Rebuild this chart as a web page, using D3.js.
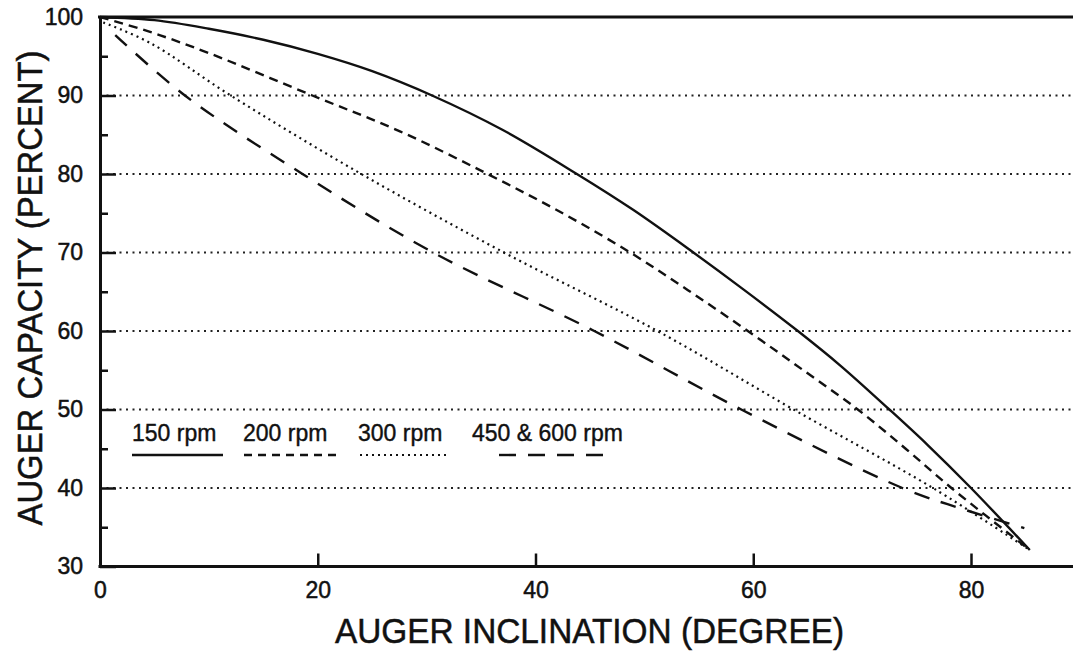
<!DOCTYPE html>
<html>
<head>
<meta charset="utf-8">
<script src="https://cdn.jsdelivr.net/npm/d3@7"></script>
<style>
  html, body { margin: 0; padding: 0; background: #fff; }
  svg { display: block; }
  text { font-family: "Liberation Sans", Arial, Helvetica, sans-serif; fill: #111; }
</style>
</head>
<body>
<svg id="chart" width="1073" height="651"></svg>
<script>
// ---- data ----
const xTicks = [0, 20, 40, 60, 80];
const yTicks = [30, 40, 50, 60, 70, 80, 90, 100];
const yMinorTicks = [35, 45, 55, 65, 75, 85, 95];
const gridValues = [40, 50, 60, 70, 80, 90];

const seriesNames = ["150 rpm", "200 rpm", "300 rpm", "450 & 600 rpm"];

const rpm150 = [[0,100],[5,99.6],[10,98.5],[15,97.1],[20,95.3],[25,93.1],[30.5,90],[37,85.6],[43.8,80],[49,75.4],[54.5,70],[59,65.4],[64.1,60],[68,55.6],[72.5,50],[76,45.5],[80,40],[85.4,32.1]];
const rpm200 = [[0,100],[4.6,98.1],[10,95.4],[19.5,90],[27.6,85.4],[35.6,80],[42.5,75],[48.7,70],[54,65.2],[59.5,60],[64.6,55],[69.6,50],[74,45],[78.2,40],[85.4,32.1]];
const rpm300 = [[0.3,99.3],[4.6,96.7],[12,90],[24,80],[37.1,70],[51.2,60],[63.7,50],[76.5,40],[85.4,32.1]];
const rpm450 = [[1.4,97.7],[7.8,90],[18.6,80],[30.6,70],[45.4,60],[58.9,50],[73.7,40],[79.5,37.2],[84.9,34.9]];

const seriesData = [rpm150, rpm200, rpm300, rpm450];

// ---- styles ----
const styles = [
  { dash: null,    width: 2.4 },
  { dash: "9,6",   width: 2.4 },
  { dash: "2,4",   width: 2.2 },
  { dash: "16,12", width: 2.4 }
];
const legendDash = [null, "8,6", "2,4", "17,12"];

const svg = d3.select("#chart");
const x = d3.scaleLinear().domain([0, 80]).range([100, 971]);
const y = d3.scaleLinear().domain([30, 100]).range([566.5, 17]);
const rightEdge = 1073;

// gridlines
svg.append("g").selectAll("line").data(gridValues).join("line")
  .attr("x1", x(0)).attr("x2", rightEdge)
  .attr("y1", d => y(d)).attr("y2", d => y(d))
  .attr("stroke", "#222").attr("stroke-width", 2.2)
  .attr("stroke-dasharray", "2,4.5");

// top border
svg.append("line")
  .attr("x1", x(0) - 2).attr("x2", rightEdge)
  .attr("y1", y(100)).attr("y2", y(100))
  .attr("stroke", "#111").attr("stroke-width", 3);

const tickFont = sel => sel.attr("font-size", 23)
  .attr("font-family", "Liberation Sans, Arial, sans-serif")
  .attr("fill", "#111").attr("stroke", "#111").attr("stroke-width", 0.5);

// y axis (major)
const yAxis = d3.axisLeft(y).tickValues(yTicks).tickSize(-16).tickSizeOuter(0).tickPadding(17).tickFormat(d3.format("d"));
const gy = svg.append("g").attr("transform", `translate(${x(0)},0)`).call(yAxis);
gy.select(".domain").attr("stroke", "#111").attr("stroke-width", 3);
gy.selectAll(".tick line").attr("stroke", "#111").attr("stroke-width", 2.5);
gy.selectAll(".tick text").call(tickFont);

// y axis (minor)
const yMinor = d3.axisLeft(y).tickValues(yMinorTicks).tickSize(-8).tickSizeOuter(0).tickFormat("");
const gym = svg.append("g").attr("transform", `translate(${x(0)},0)`).call(yMinor);
gym.select(".domain").remove();
gym.selectAll(".tick line").attr("stroke", "#111").attr("stroke-width", 2.5);

// x axis
const xAxis = d3.axisBottom(x).tickValues(xTicks).tickSize(-13).tickSizeOuter(0).tickPadding(15).tickFormat(d3.format("d"));
const gx = svg.append("g").attr("transform", `translate(0,${y(30)})`).call(xAxis);
gx.select(".domain").remove();
gx.append("line").attr("x1", x(0) - 1.5).attr("x2", rightEdge).attr("y1", 0).attr("y2", 0)
  .attr("stroke", "#111").attr("stroke-width", 3);
gx.selectAll(".tick line").attr("stroke", "#111").attr("stroke-width", 2.5);
gx.selectAll(".tick").filter(d => d === 0).select("line").remove();
gx.selectAll(".tick text").call(tickFont);

// series
const line = d3.line().x(d => x(d[0])).y(d => y(d[1])).curve(d3.curveCatmullRom.alpha(0.5));
svg.append("g").selectAll("path").data(seriesData).join("path")
  .attr("d", d => line(d))
  .attr("fill", "none")
  .attr("stroke", "#111")
  .attr("stroke-width", (d, i) => styles[i].width)
  .attr("stroke-dasharray", (d, i) => styles[i].dash);

// legend
const legendTextX = [132, 243, 358, 472];
const legendLineX = [[132, 223], [244, 337], [360, 446], [499, 603]];
const lg = svg.append("g");
seriesNames.forEach((name, i) => {
  lg.append("text").attr("x", legendTextX[i]).attr("y", 441)
    .attr("font-size", 23).attr("stroke", "#111").attr("stroke-width", 0.4).text(name);
  lg.append("line")
    .attr("x1", legendLineX[i][0]).attr("x2", legendLineX[i][1])
    .attr("y1", 455).attr("y2", 455)
    .attr("stroke", "#111").attr("stroke-width", styles[i].width)
    .attr("stroke-dasharray", legendDash[i]);
});

// axis titles
svg.append("text")
  .attr("x", 589.5).attr("y", 643)
  .attr("text-anchor", "middle")
  .attr("font-size", 35)
  .attr("stroke", "#111").attr("stroke-width", 0.5)
  .attr("textLength", 509).attr("lengthAdjust", "spacingAndGlyphs")
  .text("AUGER INCLINATION (DEGREE)");

svg.append("text")
  .attr("transform", "translate(42,288) rotate(-90)")
  .attr("text-anchor", "middle")
  .attr("font-size", 35)
  .attr("stroke", "#111").attr("stroke-width", 0.5)
  .attr("textLength", 475).attr("lengthAdjust", "spacingAndGlyphs")
  .text("AUGER CAPACITY (PERCENT)");
</script>
</body>
</html>
